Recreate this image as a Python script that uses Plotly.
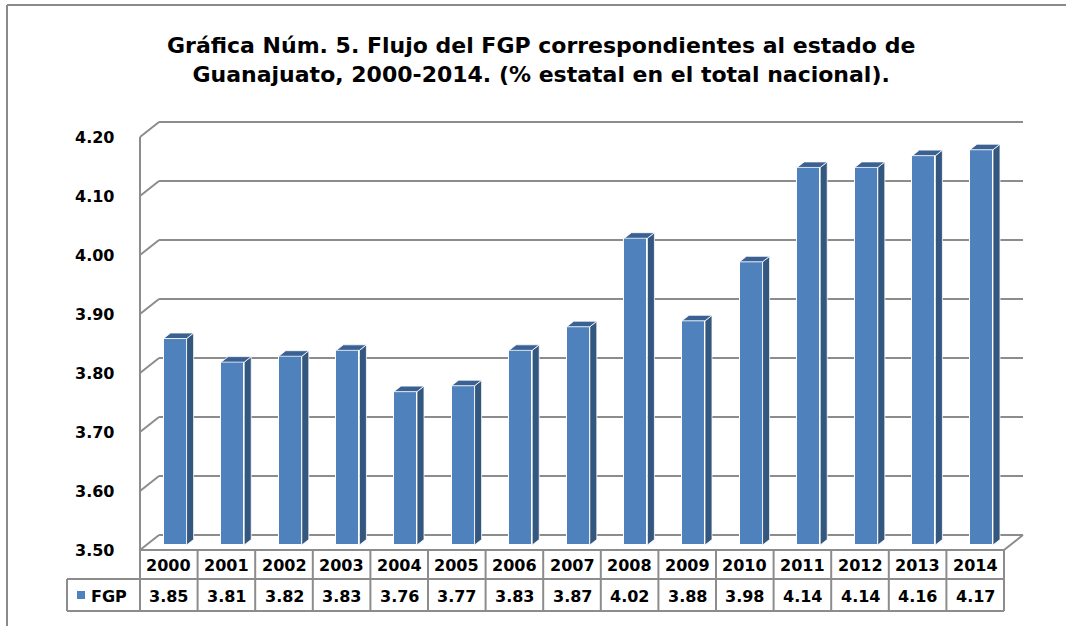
import plotly.graph_objects as go

# --- data ---
years = ["2000", "2001", "2002", "2003", "2004", "2005", "2006", "2007",
         "2008", "2009", "2010", "2011", "2012", "2013", "2014"]
fgp = [3.85, 3.81, 3.82, 3.83, 3.76, 3.77, 3.83, 3.87,
       4.02, 3.88, 3.98, 4.14, 4.14, 4.16, 4.17]
ticks = [3.50, 3.60, 3.70, 3.80, 3.90, 4.00, 4.10, 4.20]
series_name = "FGP"
title = ("Gráfica Núm. 5. Flujo del FGP correspondientes al estado de<br>"
         "Guanajuato, 2000-2014. (% estatal en el total nacional).")

# --- geometry (pixel layout of the Excel-like 3D chart) ---
W, H = 1066, 626
X0 = 140          # left edge of front plane, px
CW = 57.6         # width of one category, px
FLOOR = 550       # y px of 3.50 on front plane
PPU = 590         # px per 1.0 value
BASE = ticks[0]
DX = 19 / CW      # depth offset in x units
DY = 15 / PPU     # depth offset in y units
A, B = 0.33, 0.70 # bar front / back depth fractions
BW = 0.40         # bar width in category units

FRONT = "#4F81BD"
SIDE = "#34577F"
TOP = "#3B6192"
GRID = "#8C8C8C"
FONT = "DejaVu Sans"

n = len(years)
xr = [-0.5 - X0 / CW, -0.5 + (W - X0) / CW]
yr = [BASE - (H - FLOOR) / PPU, BASE + FLOOR / PPU]


def py(p):
    # pixel y -> paper y
    return 1 - p / H


def px(p):
    return p / W


fig = go.Figure()

# front faces of bars
fig.add_trace(go.Bar(
    x=[i + A * DX for i in range(n)],
    y=[v - BASE for v in fgp],
    base=BASE + A * DY,
    width=BW,
    marker=dict(color=FRONT, line=dict(color="white", width=1)),
    hoverinfo="skip",
    showlegend=False,
))

# side and top faces
for i, v in enumerate(fgp):
    xl = i - BW / 2
    xrr = i + BW / 2
    fig.add_trace(go.Scatter(
        x=[xrr + A * DX, xrr + B * DX, xrr + B * DX, xrr + A * DX, xrr + A * DX],
        y=[BASE + A * DY, BASE + B * DY, v + B * DY, v + A * DY, BASE + A * DY],
        fill="toself", fillcolor=SIDE, mode="lines",
        line=dict(color="white", width=0.8),
        hoverinfo="skip", showlegend=False,
    ))
    fig.add_trace(go.Scatter(
        x=[xl + A * DX, xrr + A * DX, xrr + B * DX, xl + B * DX, xl + A * DX],
        y=[v + A * DY, v + A * DY, v + B * DY, v + B * DY, v + A * DY],
        fill="toself", fillcolor=TOP, mode="lines",
        line=dict(color="white", width=0.8),
        hoverinfo="skip", showlegend=False,
    ))

shapes = []
gl = dict(color=GRID, width=2)

# back wall gridlines and left wall diagonals
for t in ticks:
    shapes.append(dict(type="line", xref="x", yref="y", layer="below",
                       x0=-0.5 + DX, x1=n - 0.5 + DX, y0=t + DY, y1=t + DY, line=gl))
    shapes.append(dict(type="line", xref="x", yref="y", layer="below",
                       x0=-0.5, x1=-0.5 + DX, y0=t, y1=t + DY, line=gl))
shapes.append(dict(type="line", xref="x", yref="y", layer="below",
                   x0=-0.5, x1=-0.5, y0=ticks[0], y1=ticks[-1], line=gl))
shapes.append(dict(type="line", xref="x", yref="y", layer="below",
                   x0=n - 0.5, x1=n - 0.5 + DX, y0=BASE, y1=BASE + DY, line=gl))

# data table
ROW1, ROW2, ROW3 = FLOOR, 579, 611
LEG_L = 67
shapes.append(dict(type="line", xref="x", yref="paper", x0=-0.5, x1=n - 0.5,
                   y0=py(ROW1), y1=py(ROW1), line=gl))
for r in (ROW2, ROW3):
    shapes.append(dict(type="line", xref="paper", yref="paper", x0=px(LEG_L),
                       x1=px(X0 + n * CW), y0=py(r), y1=py(r), line=gl))
for i in range(n + 1):
    shapes.append(dict(type="line", xref="x", yref="paper", x0=i - 0.5, x1=i - 0.5,
                       y0=py(ROW1), y1=py(ROW3), line=gl))
shapes.append(dict(type="line", xref="paper", yref="paper", x0=px(LEG_L), x1=px(LEG_L),
                   y0=py(ROW2), y1=py(ROW3), line=gl))
# legend key
shapes.append(dict(type="rect", xref="paper", yref="paper", x0=px(77), x1=px(85),
                   y0=py(599), y1=py(591), fillcolor=FRONT, line=dict(width=0)))

# outer chart frame
shapes.append(dict(type="line", xref="paper", yref="paper", x0=px(7), x1=px(7),
                   y0=py(5), y1=0, line=dict(color="#8A8A8A", width=2)))
shapes.append(dict(type="line", xref="paper", yref="paper", x0=px(7), x1=1,
                   y0=py(5), y1=py(5), line=dict(color="#8A8A8A", width=2)))

ann = []
bold = dict(family=FONT, size=16, color="black")
mid = dict(showarrow=False, yanchor="middle", font=bold)
for t in ticks:
    ann.append(dict(x=px(116), xref="paper", y=t, yref="y", text=f"<b>{t:.2f}</b>",
                    xanchor="right", **mid))
for i, (yy, v) in enumerate(zip(years, fgp)):
    ann.append(dict(x=i, xref="x", y=py((ROW1 + ROW2) / 2 + 1), yref="paper",
                    text=f"<b>{yy}</b>", xanchor="center", **mid))
    ann.append(dict(x=i, xref="x", y=py((ROW2 + ROW3) / 2 + 1), yref="paper",
                    text=f"<b>{v:.2f}</b>", xanchor="center", **mid))
ann.append(dict(x=px(89), xref="paper", y=py((ROW2 + ROW3) / 2 + 1), yref="paper",
                text=f"<b>{series_name}</b>", xanchor="left", **mid))
ann.append(dict(x=px(541), xref="paper", y=py(60), yref="paper", text=f"<b>{title}</b>",
                xanchor="center", yanchor="middle", showarrow=False,
                font=dict(family=FONT, size=22, color="black")))

fig.update_layout(
    width=W, height=H,
    margin=dict(l=0, r=0, t=0, b=0),
    paper_bgcolor="white", plot_bgcolor="white",
    xaxis=dict(range=xr, visible=False, fixedrange=True),
    yaxis=dict(range=yr, visible=False, fixedrange=True),
    shapes=shapes, annotations=ann,
    showlegend=False, bargap=0,
)

fig.write_html("out.html", config={"displayModeBar": False},
               post_script="document.body.style.margin='0';document.body.style.overflow='hidden';")
